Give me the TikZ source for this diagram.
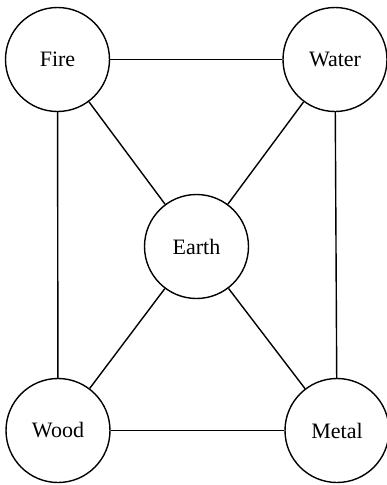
\documentclass[tikz,border=0pt]{standalone}
\usepackage{fontspec}
\setmainfont{Liberation Serif}
\begin{document}
\begin{tikzpicture}[x=1pt,y=-1pt,
  element/.style={draw,circle,line width=1.4pt,minimum size=104pt,inner sep=0pt,font=\fontsize{22}{26}\selectfont},
  link/.style={line width=1.4pt}]
\useasboundingbox (0,0) rectangle (386,485);
\node[element] (fire) at (57.5,59.5) {Fire};
\node[element] (water) at (335,59.5) {Water};
\node[element] (earth) at (196.5,246.5) {Earth};
\node[element] (wood) at (58,430.5) {Wood};
\node[element] (metal) at (337,430.5) {Metal};
\draw[link] (fire) -- (water);
\draw[link] (fire) -- (wood);
\draw[link] (water) -- (metal);
\draw[link] (wood) -- (metal);
\draw[link] (fire) -- (earth);
\draw[link] (water) -- (earth);
\draw[link] (wood) -- (earth);
\draw[link] (metal) -- (earth);
\end{tikzpicture}
\end{document}
